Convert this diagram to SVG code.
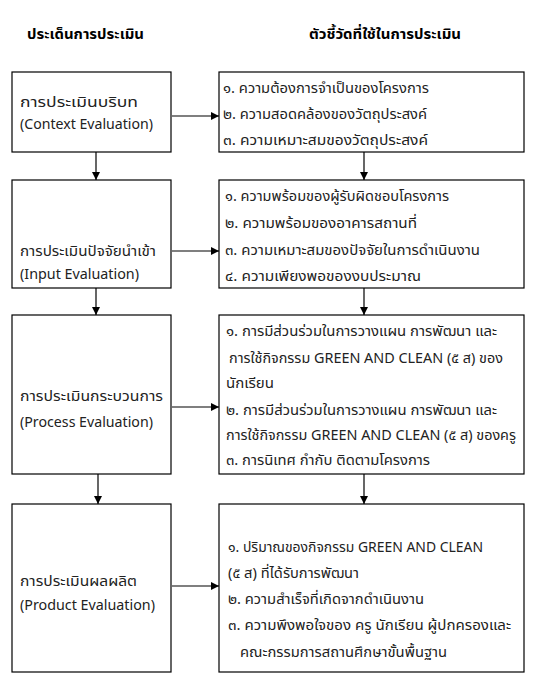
<svg xmlns="http://www.w3.org/2000/svg" width="545" height="692" viewBox="0 0 545 692">
<defs>
<marker id="ah" markerUnits="userSpaceOnUse" markerWidth="8" markerHeight="8" refX="8" refY="4" orient="auto">
<path d="M0,0 L8,4 L0,8 z" fill="#000"/>
</marker>
<style>
.box{fill:#fff;stroke:#000;stroke-width:1.2}
.t{font-family:"Noto Sans Thai","Noto Sans","DejaVu Sans",sans-serif;font-size:14px;fill:#222}
.h{font-family:"Noto Sans Thai","Noto Sans","DejaVu Sans",sans-serif;font-size:14.5px;font-weight:bold;fill:#000}
.c{stroke:#000;stroke-width:1.2;fill:none;marker-end:url(#ah)}
</style>
</defs>
<rect width="545" height="692" fill="#fff"/>
<g id="headers">
<text class="h" x="27" y="39" textLength="117" lengthAdjust="spacingAndGlyphs">ประเด็นการประเมิน</text>
<text class="h" x="309" y="39" textLength="152" lengthAdjust="spacingAndGlyphs">ตัวชี้วัดที่ใช้ในการประเมิน</text>
</g>
<g id="context">
<rect class="box" x="12" y="72" width="159" height="80"/>
<text class="t" x="20" y="107" textLength="118" lengthAdjust="spacingAndGlyphs">การประเมินบริบท</text>
<text class="t" x="20" y="129" textLength="133" lengthAdjust="spacingAndGlyphs">(Context Evaluation)</text>
</g>
<g id="context-indicators">
<rect class="box" x="219" y="72" width="305" height="80"/>
<text class="t" x="223" y="93" textLength="206" lengthAdjust="spacingAndGlyphs">๑. ความต้องการจำเป็นของโครงการ</text>
<text class="t" x="223" y="119" textLength="204" lengthAdjust="spacingAndGlyphs">๒. ความสอดคล้องของวัตถุประสงค์</text>
<text class="t" x="223" y="145" textLength="205" lengthAdjust="spacingAndGlyphs">๓. ความเหมาะสมของวัตถุประสงค์</text>
</g>
<g id="input">
<rect class="box" x="12" y="180" width="159" height="108"/>
<text class="t" x="20" y="256" textLength="136" lengthAdjust="spacingAndGlyphs">การประเมินปัจจัยนำเข้า</text>
<text class="t" x="20" y="279" textLength="119" lengthAdjust="spacingAndGlyphs">(Input Evaluation)</text>
</g>
<g id="input-indicators">
<rect class="box" x="219" y="180" width="305" height="108"/>
<text class="t" x="225" y="201" textLength="224" lengthAdjust="spacingAndGlyphs">๑. ความพร้อมของผู้รับผิดชอบโครงการ</text>
<text class="t" x="225" y="228" textLength="192" lengthAdjust="spacingAndGlyphs">๒. ความพร้อมของอาคารสถานที่</text>
<text class="t" x="225" y="255" textLength="255" lengthAdjust="spacingAndGlyphs">๓. ความเหมาะสมของปัจจัยในการดำเนินงาน</text>
<text class="t" x="225" y="281" textLength="196" lengthAdjust="spacingAndGlyphs">๔. ความเพียงพอของงบประมาณ</text>
</g>
<g id="process">
<rect class="box" x="12" y="315" width="159" height="159"/>
<text class="t" x="20" y="401" textLength="143" lengthAdjust="spacingAndGlyphs">การประเมินกระบวนการ</text>
<text class="t" x="20" y="427" textLength="133" lengthAdjust="spacingAndGlyphs">(Process Evaluation)</text>
</g>
<g id="process-indicators">
<rect class="box" x="219" y="315" width="305" height="159"/>
<text class="t" x="226" y="336" textLength="271" lengthAdjust="spacingAndGlyphs">๑. การมีส่วนร่วมในการวางแผน การพัฒนา และ</text>
<text class="t" x="229" y="363" textLength="274" lengthAdjust="spacingAndGlyphs">การใช้กิจกรรม GREEN AND CLEAN (๕ ส) ของ</text>
<text class="t" x="226" y="388" textLength="48" lengthAdjust="spacingAndGlyphs">นักเรียน</text>
<text class="t" x="226" y="415" textLength="271" lengthAdjust="spacingAndGlyphs">๒. การมีส่วนร่วมในการวางแผน การพัฒนา และ</text>
<text class="t" x="226" y="440" textLength="290" lengthAdjust="spacingAndGlyphs">การใช้กิจกรรม GREEN AND CLEAN (๕ ส) ของครู</text>
<text class="t" x="226" y="465" textLength="204" lengthAdjust="spacingAndGlyphs">๓. การนิเทศ กำกับ ติดตามโครงการ</text>
</g>
<g id="product">
<rect class="box" x="12" y="504" width="159" height="168"/>
<text class="t" x="20" y="586" textLength="117" lengthAdjust="spacingAndGlyphs">การประเมินผลผลิต</text>
<text class="t" x="20" y="610" textLength="135" lengthAdjust="spacingAndGlyphs">(Product Evaluation)</text>
</g>
<g id="product-indicators">
<rect class="box" x="219" y="504" width="305" height="168"/>
<text class="t" x="228" y="552" textLength="255" lengthAdjust="spacingAndGlyphs">๑. ปริมาณของกิจกรรม GREEN AND CLEAN</text>
<text class="t" x="228" y="578" textLength="131" lengthAdjust="spacingAndGlyphs">(๕ ส) ที่ได้รับการพัฒนา</text>
<text class="t" x="228" y="604" textLength="196" lengthAdjust="spacingAndGlyphs">๒. ความสำเร็จที่เกิดจากดำเนินงาน</text>
<text class="t" x="228" y="630" textLength="283" lengthAdjust="spacingAndGlyphs">๓. ความพึงพอใจของ ครู นักเรียน ผู้ปกครองและ</text>
<text class="t" x="240" y="657" textLength="207" lengthAdjust="spacingAndGlyphs">คณะกรรมการสถานศึกษาขั้นพื้นฐาน</text>
</g>
<g id="connectors">
<line class="c" x1="172" y1="116" x2="219" y2="116"/>
<line class="c" x1="172" y1="251" x2="219" y2="251"/>
<line class="c" x1="172" y1="407" x2="219" y2="407"/>
<line class="c" x1="172" y1="586" x2="219" y2="586"/>
<line class="c" x1="96" y1="152" x2="96" y2="180"/>
<line class="c" x1="364" y1="152" x2="364" y2="180"/>
<line class="c" x1="96" y1="288" x2="96" y2="315"/>
<line class="c" x1="364" y1="288" x2="364" y2="315"/>
<line class="c" x1="98" y1="474" x2="98" y2="504"/>
<line class="c" x1="364" y1="474" x2="364" y2="504"/>
</g>
</svg>
